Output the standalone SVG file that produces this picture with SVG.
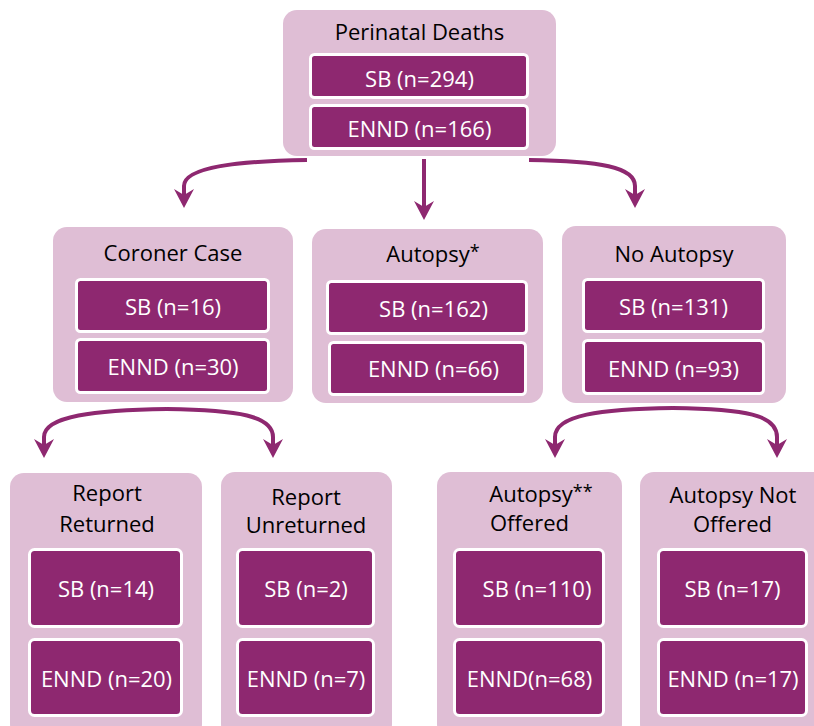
<svg xmlns="http://www.w3.org/2000/svg" width="814" height="726" viewBox="0 0 814 726">
<defs>
<style>
.outer{fill:#dfbed5}
.inner{fill:#8e2870;stroke:#ffffff;stroke-width:3}
.t{font-family:"Open Sans","Liberation Sans",sans-serif;font-size:22px;fill:#000;text-anchor:middle}
.w{font-family:"Open Sans","Liberation Sans",sans-serif;font-size:22px;fill:#fff;text-anchor:middle}
.c{fill:none;stroke:#8e2870;stroke-width:4;marker-end:url(#ah)}
</style>
<marker id="ah" markerUnits="userSpaceOnUse" viewBox="0 0 20 20" markerWidth="20" markerHeight="20" refX="6" refY="10" orient="auto">
<path d="M0,0 L19,10 L0,20 L6,10 Z" fill="#8e2870"/>
</marker>
</defs>
<rect width="814" height="726" fill="#fff"/>
<g id="connectors">
<path class="c" d="M307,160 C240,161 184,167 184,186 L184,195"/>
<path class="c" d="M424,159 L424,207"/>
<path class="c" d="M529,160 C600,161 635,167 635,186 L635,195"/>
<path class="c" d="M167,409 C95,410 44,416 44,437 L44,445"/>
<path class="c" d="M167,409 C239,410 273,416 273,437 L273,445"/>
<path class="c" d="M673,408 C600,409 555,415 555,437 L555,445"/>
<path class="c" d="M673,408 C746,409 777,415 777,437 L777,445"/>
</g>
<g id="perinatal">
<rect class="outer" x="283" y="10" width="273" height="146" rx="14"/>
<text class="t" x="419.5" y="40">Perinatal Deaths</text>
<rect class="inner" x="310.5" y="54.5" width="217" height="43" rx="4"/>
<text class="w" x="419.5" y="87">SB (n=294)</text>
<rect class="inner" x="310.5" y="105.5" width="217" height="43" rx="4"/>
<text class="w" x="419.5" y="137">ENND (n=166)</text>
</g>
<g id="coroner">
<rect class="outer" x="53" y="227" width="240" height="175" rx="14"/>
<text class="t" x="173" y="261">Coroner Case</text>
<rect class="inner" x="76.5" y="279.5" width="192" height="52" rx="4"/>
<text class="w" x="173" y="315">SB (n=16)</text>
<rect class="inner" x="76.5" y="339.5" width="192" height="53" rx="4"/>
<text class="w" x="173" y="375">ENND (n=30)</text>
</g>
<g id="autopsy">
<rect class="outer" x="312" y="229" width="231" height="174" rx="14"/>
<text class="t" x="433" y="262">Autopsy<tspan font-size="18" dy="-4">*</tspan></text>
<rect class="inner" x="327.5" y="281.5" width="199" height="52" rx="4"/>
<text class="w" x="433.5" y="317">SB (n=162)</text>
<rect class="inner" x="329.5" y="342.5" width="196" height="52" rx="4"/>
<text class="w" x="433.5" y="377">ENND (n=66)</text>
</g>
<g id="noautopsy">
<rect class="outer" x="562" y="226" width="224" height="177" rx="14"/>
<text class="t" x="674" y="262">No Autopsy</text>
<rect class="inner" x="583.5" y="279.5" width="180" height="52" rx="4"/>
<text class="w" x="673.5" y="315">SB (n=131)</text>
<rect class="inner" x="583.5" y="340.5" width="180" height="53" rx="4"/>
<text class="w" x="673.5" y="377">ENND (n=93)</text>
</g>
<g id="returned">
<rect class="outer" x="10" y="473" width="192" height="265" rx="14"/>
<text class="t" x="107" y="501">Report</text>
<text class="t" x="107" y="532">Returned</text>
<rect class="inner" x="29.5" y="549.5" width="152" height="77" rx="5"/>
<text class="w" x="106" y="597">SB (n=14)</text>
<rect class="inner" x="29.5" y="639.5" width="152" height="76" rx="5"/>
<text class="w" x="106.5" y="687">ENND (n=20)</text>
</g>
<g id="unreturned">
<rect class="outer" x="221" y="472" width="171" height="266" rx="14"/>
<text class="t" x="306" y="505">Report</text>
<text class="t" x="306" y="533">Unreturned</text>
<rect class="inner" x="237.5" y="549.5" width="136" height="77" rx="5"/>
<text class="w" x="306" y="597">SB (n=2)</text>
<rect class="inner" x="237.5" y="639.5" width="136" height="76" rx="5"/>
<text class="w" x="306" y="687">ENND (n=7)</text>
</g>
<g id="offered">
<rect class="outer" x="437" y="472" width="185" height="266" rx="14"/>
<text class="t" x="541" y="502">Autopsy<tspan font-size="18" dy="-4">**</tspan></text>
<text class="t" x="529.5" y="531">Offered</text>
<rect class="inner" x="454.5" y="549.5" width="149" height="77" rx="5"/>
<text class="w" x="537" y="597">SB (n=110)</text>
<rect class="inner" x="454.5" y="639.5" width="149" height="76" rx="5"/>
<text class="w" x="529.5" y="687">ENND(n=68)</text>
</g>
<g id="notoffered">
<rect class="outer" x="640" y="472" width="190" height="266" rx="14"/>
<text class="t" x="733" y="503">Autopsy Not</text>
<text class="t" x="732.5" y="532">Offered</text>
<rect class="inner" x="658.5" y="549.5" width="148" height="77" rx="5"/>
<text class="w" x="732.5" y="597">SB (n=17)</text>
<rect class="inner" x="658.5" y="639.5" width="148" height="76" rx="5"/>
<text class="w" x="733" y="687">ENND (n=17)</text>
</g>
</svg>
